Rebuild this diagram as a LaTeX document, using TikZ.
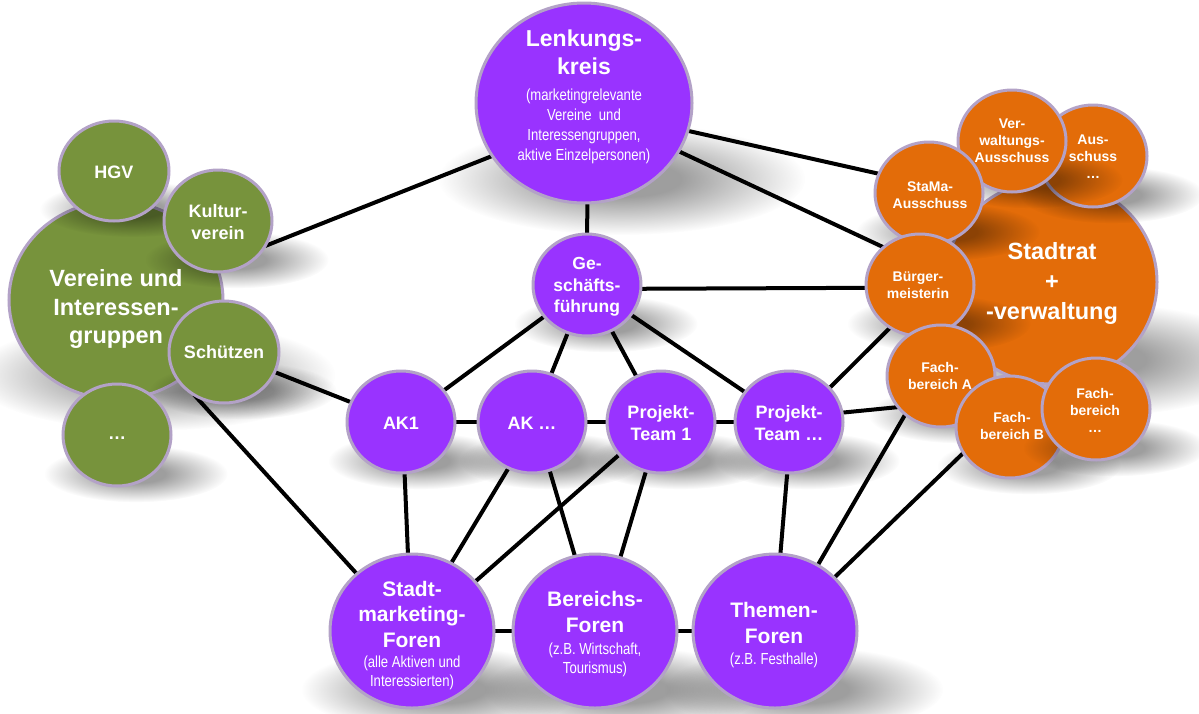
\documentclass[tikz,border=0pt]{standalone}
\usepackage{fontspec}
\setmainfont{Liberation Sans}
\newfontfamily\narrowfont[FakeStretch=0.82]{Liberation Sans}
\usetikzlibrary{shapes.geometric,fadings}
\definecolor{bpurple}{RGB}{153,51,255}
\definecolor{borange}{RGB}{227,108,9}
\definecolor{bgreen}{RGB}{119,147,60}
\definecolor{bedge}{RGB}{179,162,199}
\pgfdeclareradialshading{blobshade}{\pgfpointorigin}{color(0bp)=(transparent!0); color(8bp)=(transparent!0); color(25bp)=(transparent!100); color(50bp)=(transparent!100)}
\pgfdeclarefading{softblob}{\pgfuseshading{blobshade}}
\pgfdeclarelayer{bg}
\pgfdeclarelayer{fg}
\pgfsetlayers{bg,main,fg}
\newcommand\fntLenk{\bfseries\fontsize{23}{28}\selectfont}
\newcommand\fntBig{\bfseries\fontsize{23.5}{28.5}\selectfont}
\newcommand\fntRat{\bfseries\fontsize{23.5}{30}\selectfont}
\newcommand\fntForen{\bfseries\fontsize{21}{25.5}\selectfont}
\newcommand\fntGf{\bfseries\fontsize{17.5}{21.5}\selectfont}
\newcommand\fntAk{\bfseries\fontsize{18}{22}\selectfont}
\newcommand\fntOr{\bfseries\fontsize{14}{17}\selectfont}
\newcommand\fntSubL{\narrowfont\fontsize{16}{20}\selectfont}
\newcommand\fntSubF{\narrowfont\fontsize{16}{18.5}\selectfont}
\newcommand\shadowblob[4]{\fill[black,opacity=0.38,path fading=softblob] (#1+0.35*#3,#2+0.76*#4) ellipse ({1.7*#3pt} and {0.56*#4pt});}
\newcommand\bubble[6]{\shadowblob{#2}{#3}{#4}{#5}\node[#6, minimum width=2*#4pt, minimum height=2*#5pt] (#1) at (#2,#3) {};}
\tikzset{
  bub/.style={ellipse, draw=bedge, line width=3pt, inner sep=0pt, outer sep=0pt},
  pbub/.style={bub, fill=bpurple},
  obub/.style={bub, fill=borange},
  gbub/.style={bub, fill=bgreen},
  txt/.style={text=white, align=center, inner sep=0pt},
  link/.style={line width=4pt, black}
}
\begin{document}
\begin{tikzpicture}[x=1pt,y=-1pt]
\useasboundingbox (0,0) rectangle (1199,713);
% ---------- green cluster
\bubble{vereine}{116}{300}{107}{99}{gbub}
\bubble{hgv}{114}{171}{55}{50}{gbub}
\bubble{kultur}{218}{221}{54}{51}{gbub}
\bubble{schuetzen}{224}{352}{55}{51}{gbub}
\bubble{gdots}{117}{435}{54}{51}{gbub}
% ---------- purple
\bubble{lenk}{584}{103}{108}{100}{pbub}
\bubble{gf}{587}{285}{54}{51}{pbub}
\bubble{ak1}{401}{422}{54}{51}{pbub}
\bubble{akx}{532}{422}{54}{51}{pbub}
\bubble{pt1}{661}{422}{54}{51}{pbub}
\bubble{ptx}{789}{422}{54}{51}{pbub}
\bubble{smf}{412}{631}{82}{77}{pbub}
\bubble{bf}{595}{631}{82}{77}{pbub}
\bubble{tf}{775}{631}{82}{77}{pbub}
% ---------- orange cluster
\bubble{rat}{1051}{282}{106}{102}{obub}
\bubble{aussx}{1093}{156}{54}{51}{obub}
\bubble{verw}{1012}{141}{54}{51}{obub}
\bubble{stama}{929}{193}{54}{51}{obub}
\bubble{buerger}{920}{285}{54}{51}{obub}
\bubble{facha}{941}{376}{54}{51}{obub}
\bubble{fachb}{1010}{427}{54}{51}{obub}
\bubble{fachx}{1096}{409}{54}{51}{obub}
% ---------- texts (on top)
\begin{pgfonlayer}{fg}
\node[txt,font=\fntBig] (vereine-t) at (116,309) {Vereine und\\Interessen-\\gruppen};
\node[txt,font=\fntAk] (hgv-t) at (114,172) {HGV};
\node[txt,font=\fntAk] (kultur-t) at (218,222) {Kultur-\\verein};
\node[txt,font=\fntAk] (schuetzen-t) at (224,352) {Schützen};
\node[txt,font=\fntAk] (gdots-t) at (117,438) {…};
\node[txt,font=\fntLenk] (lenk-t) at (584,52) {Lenkungs-\\kreis};
\node[txt,font=\fntSubL] (lenk-s) at (584,126) {(marketingrelevante\\Vereine\ \ und\\Interessengruppen,\\aktive Einzelpersonen)};
\node[txt,font=\fntGf] (gf-t) at (587,287) {Ge-\\schäfts-\\führung};
\node[txt,font=\fntAk] (ak1-t) at (401,423) {AK1};
\node[txt,font=\fntAk] (akx-t) at (532,423) {AK …};
\node[txt,font=\fntAk] (pt1-t) at (661,423) {Projekt-\\Team 1};
\node[txt,font=\fntAk] (ptx-t) at (789,423) {Projekt-\\Team …};
\node[txt,font=\fntForen] (smf-t) at (412,614) {Stadt-\\marketing-\\Foren};
\node[txt,font=\fntSubF] (smf-s) at (412,673) {(alle Aktiven und\\Interessierten)};
\node[txt,font=\fntForen] (bf-t) at (595,612) {Bereichs-\\Foren};
\node[txt,font=\fntSubF] (bf-s) at (595,660) {(z.B. Wirtschaft,\\Tourismus)};
\node[txt,font=\fntForen] (tf-t) at (774,623) {Themen-\\Foren};
\node[txt,font=\fntSubF] (tf-s) at (774,660) {(z.B. Festhalle)};
\node[txt,font=\fntRat] (rat-t) at (1052,283) {Stadtrat\\+\\-verwaltung};
\node[txt,font=\fntOr] (aussx-t) at (1093,157) {Aus-\\schuss\\…};
\node[txt,font=\fntOr] (verw-t) at (1012,141) {Ver-\\waltungs-\\Ausschuss};
\node[txt,font=\fntOr] (stama-t) at (930,195) {StaMa-\\Ausschuss};
\node[txt,font=\fntOr] (buerger-t) at (918,285) {Bürger-\\meisterin};
\node[txt,font=\fntOr] (facha-t) at (940,376) {Fach-\\bereich A};
\node[txt,font=\fntOr] (fachb-t) at (1012,426) {Fach-\\bereich B};
\node[txt,font=\fntOr] (fachx-t) at (1095,410) {Fach-\\bereich\\…};
\end{pgfonlayer}
% ---------- connectors
\begin{pgfonlayer}{bg}
\draw[link] (kultur.-28) -- (lenk.210);
\draw[link] (lenk.-88) -- (gf.north);
\draw[link] (lenk.-15) -- (stama.159);
\draw[link] (lenk.-27) -- (buerger.134);
\draw[link] (gf.-4) -- (buerger.183);
\draw[link] (gf) -- (ak1);
\draw[link] (gf) -- (akx);
\draw[link] (gf) -- (pt1);
\draw[link] (gf) -- (ptx);
\draw[link] (schuetzen) -- (ak1);
\draw[link] (ak1) -- (akx);
\draw[link] (akx) -- (pt1);
\draw[link] (pt1) -- (ptx);
\draw[link] (ptx.40) -- (buerger.235);
\draw[link] (ptx.10) -- (facha.216);
\draw[link] (schuetzen.-125) -- (smf.134);
\draw[link] (ak1.-86) -- (smf.93);
\draw[link] (akx.-117) -- (smf.60);
\draw[link] (akx.-70) -- (bf.105);
\draw[link] (pt1.218) -- (smf.38);
\draw[link] (pt1.-107) -- (bf.71);
\draw[link] (ptx.-92) -- (tf.86);
\draw[link] (facha.227) -- (tf.57);
\draw[link] (fachb.209) -- (tf.42);
\draw[link] (smf) -- (bf);
\draw[link] (bf) -- (tf);
\end{pgfonlayer}
\end{tikzpicture}
\end{document}
